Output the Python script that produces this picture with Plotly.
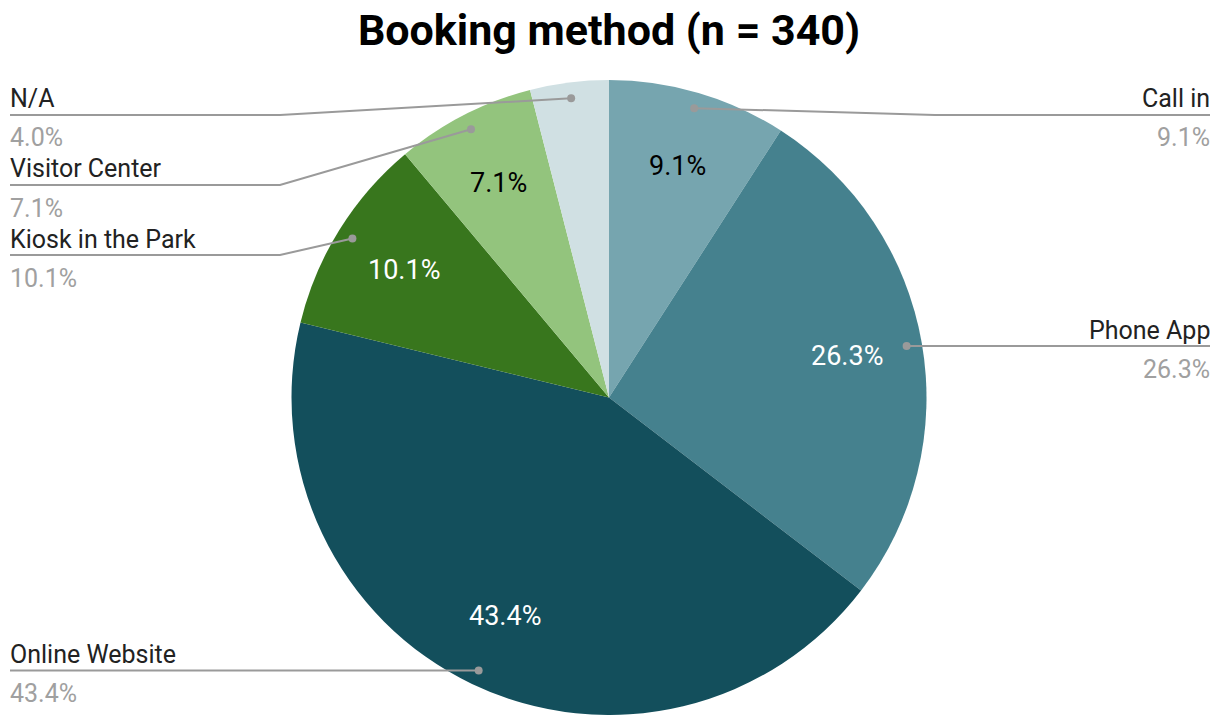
import math
import plotly.graph_objects as go

# ---------------- data ----------------
categories = ["Call in", "Phone App", "Online Website", "Kiosk in the Park", "Visitor Center", "N/A"]
values = [9.1, 26.3, 43.4, 10.1, 7.1, 4.0]
colors = ["#76a5af", "#45818e", "#134f5c", "#38761d", "#93c47d", "#d0e0e3"]
inside_text_colors = ["#000000", "#ffffff", "#ffffff", "#ffffff", "#000000", "#000000"]
title_text = "Booking method (n = 340)"

# ---------------- layout geometry ----------------
W, H = 1221, 715
cx, cy, R = 609, 398, 318
FONT = "Roboto"
LINE_COLOR = "#9a9a9a"


def px(x):
    return x / W


def py(y):
    return 1 - y / H


fig = go.Figure(go.Pie(
    labels=categories,
    values=values,
    sort=False,
    direction="clockwise",
    rotation=0,
    marker=dict(colors=colors, line=dict(width=0)),
    textinfo="none",
    hoverinfo="label+percent",
    showlegend=False,
    domain=dict(x=[px(cx - R), px(cx + R)], y=[max(0, py(cy + R)), py(cy - R)]),
))

total = sum(values)
annotations = []
shapes = []

# mid angles (clockwise from 12 o'clock)
mids = []
acc = 0.0
for v in values:
    mids.append((acc + v / 2) / total * 2 * math.pi)
    acc += v


def polar(r, th):
    return cx + r * math.sin(th), cy - r * math.cos(th)


# inside percentage labels
for i, (v, th) in enumerate(zip(values, mids)):
    if v / total < 0.05:
        continue
    x, y = polar(0.76 * R, th)
    annotations.append(dict(
        x=px(x), y=py(y), xref="paper", yref="paper", showarrow=False,
        text=f"{v / total * 100:.1f}%", xanchor="center", yanchor="middle",
        font=dict(family=FONT, size=27, color=inside_text_colors[i]),
    ))

# outside labels with leader lines
items = []
for i, th in enumerate(mids):
    dx, dy = polar(0.95 * R, th)
    side = "right" if math.sin(th) > 0 else "left"
    items.append(dict(i=i, dx=dx, dy=dy, side=side))

TOP_MIN = 115
GAP = 70
for side in ("left", "right"):
    group = sorted([it for it in items if it["side"] == side], key=lambda d: d["dy"])
    prev = None
    for it in group:
        ly = max(it["dy"], TOP_MIN)
        if prev is not None:
            ly = max(ly, prev + GAP)
        it["ly"] = ly
        prev = ly

for it in items:
    i = it["i"]
    dx, dy, ly = it["dx"], it["dy"], it["ly"]
    if it["side"] == "left":
        bend_x = cx - R - 11
        end_x = 10
        text_x = 8
        anchor = "left"
    else:
        bend_x = cx + R + 8
        end_x = 1210
        text_x = 1212
        anchor = "right"
    if abs(ly - dy) < 1:
        path = f"M {px(dx)},{py(dy)} L {px(end_x)},{py(ly)}"
    else:
        path = f"M {px(dx)},{py(dy)} L {px(bend_x)},{py(ly)} L {px(end_x)},{py(ly)}"
    shapes.append(dict(type="path", path=path, xref="paper", yref="paper",
                       line=dict(color=LINE_COLOR, width=2)))
    r = 4
    shapes.append(dict(type="circle", xref="paper", yref="paper",
                       x0=px(dx - r), x1=px(dx + r), y0=py(dy + r), y1=py(dy - r),
                       fillcolor=LINE_COLOR, line=dict(width=0)))
    annotations.append(dict(
        x=px(text_x), y=py(ly - 16), xref="paper", yref="paper", showarrow=False,
        text=categories[i], xanchor=anchor, yanchor="middle",
        font=dict(family=FONT, size=25, color="#222222"),
    ))
    annotations.append(dict(
        x=px(text_x), y=py(ly + 23), xref="paper", yref="paper", showarrow=False,
        text=f"{values[i] / total * 100:.1f}%", xanchor=anchor, yanchor="middle",
        font=dict(family=FONT, size=25, color="#a0a0a0"),
    ))

fig.update_layout(
    width=W, height=H,
    margin=dict(l=0, r=0, t=0, b=0),
    paper_bgcolor="white",
    plot_bgcolor="white",
    title=dict(text=f"<b>{title_text}</b>", x=609 / W, xanchor="center",
               y=1 - 30 / H, yref="container", yanchor="middle",
               font=dict(family=FONT, size=43, color="#000000")),
    annotations=annotations,
    shapes=shapes,
)

fig.write_html("out.html", config={"displayModeBar": False},
               post_script="document.body.style.margin='0';document.body.style.overflow='hidden';")
